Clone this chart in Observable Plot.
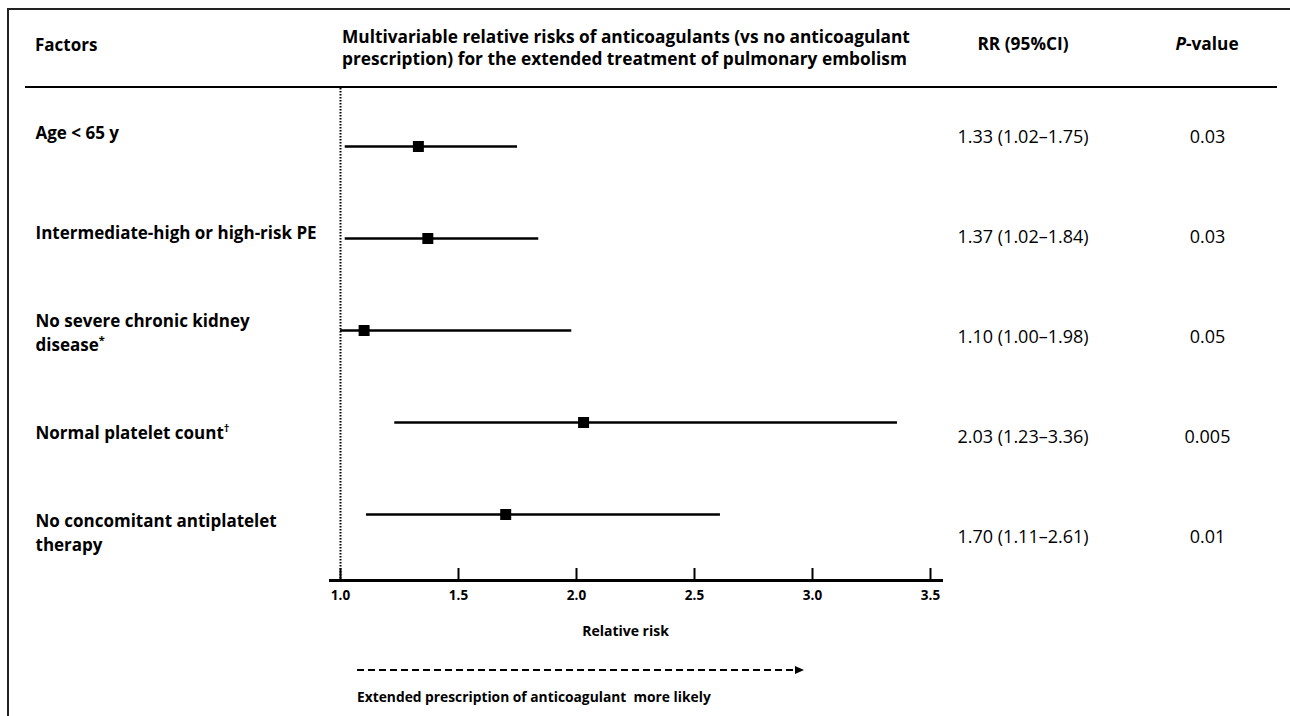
<!DOCTYPE html>
<html>
<head>
<meta charset="utf-8">
<script src="https://cdn.jsdelivr.net/npm/d3@7"></script>
<script src="https://cdn.jsdelivr.net/npm/@observablehq/plot@0.6"></script>
<style>
  body { margin: 0; background: #fff; font-family: "Open Sans", sans-serif; color: #000; }
  #page { position: relative; width: 1290px; height: 716px; overflow: hidden; }
  .border { position: absolute; left: 7px; top: 8px; right: -10px; bottom: -10px;
            border-left: 2px solid #222; border-top: 2px solid #222; }
  .hd { position: absolute; font-weight: 700; font-size: 17.3px; line-height: 22px; white-space: nowrap; }
  .center { transform: translateX(-50%); text-align: center; }
  .rule { position: absolute; left: 25px; top: 86px; width: 1252px; height: 2px; background: #000; }
  .layer { position: absolute; left: 0; top: 88px; }
  .arrow { position: absolute; left: 357px; top: 669px; width: 438px; height: 2px;
           background: repeating-linear-gradient(to right, #000 0 7px, transparent 7px 11px); }
  .arrowhead { position: absolute; left: 795px; top: 666px; width: 0; height: 0;
               border-top: 4px solid transparent; border-bottom: 4px solid transparent; border-left: 9px solid #000; }
  .note { position: absolute; left: 357px; top: 687px; font-weight: 700; font-size: 13.8px; line-height: 20px; white-space: nowrap; }
</style>
</head>
<body>
<div id="page">
  <div class="border"></div>
  <div class="hd" style="left:35px; top:34px; font-size:17px;">Factors</div>
  <div class="hd" style="left:342px; top:26px;">Multivariable relative risks of anticoagulants (vs no anticoagulant<br>prescription) for the extended treatment of pulmonary embolism</div>
  <div class="hd center" style="left:1023px; top:33px;">RR (95%CI)</div>
  <div class="hd center" style="left:1207px; top:33px;"><i>P</i>-value</div>
  <div class="rule"></div>
  <div id="forest" class="layer"></div>
  <div id="table" class="layer"></div>
  <div class="arrow"></div>
  <div class="arrowhead"></div>
  <div class="note">Extended prescription of anticoagulant&nbsp; more likely</div>
</div>
<script>
// Factors associated with an extended anticoagulant prescription
const factors = [
  "Age < 65 y",
  "Intermediate-high or high-risk PE",
  "No severe chronic kidney\ndisease*",
  "Normal platelet count\u2020",
  "No concomitant antiplatelet\ntherapy"
];
const relativeRisk = [1.33, 1.37, 1.10, 2.03, 1.70];
const ciLow = [1.02, 1.02, 1.00, 1.23, 1.11];
const ciHigh = [1.75, 1.84, 1.98, 3.36, 2.61];
const pValues = ["0.03", "0.03", "0.05", "0.005", "0.01"];
const xTicks = [1.0, 1.5, 2.0, 2.5, 3.0, 3.5];

const rows = factors.map((factor, i) => ({
  factor, rr: relativeRisk[i], lo: ciLow[i], hi: ciHigh[i], p: pValues[i]
}));

const fmt = d3.format(".2f");

// shared frame geometry for both layers
const frame = {
  width: 1290, height: 628,
  marginTop: 0, marginBottom: 136, marginLeft: 340, marginRight: 360,
  style: { fontFamily: "'Open Sans', sans-serif", color: "#000", background: "transparent", overflow: "visible" }
};

// forest plot: estimates with 95% confidence intervals
const forest = Plot.plot({
  ...frame,
  x: { domain: [1, 3.5] },
  y: { type: "point", domain: factors, padding: 0, insetTop: 57, insetBottom: 65, axis: null },
  marks: [
    Plot.ruleX([1], { stroke: "#000", strokeWidth: 2, strokeDasharray: "1.5,1.5" }),
    Plot.frame({ anchor: "bottom", insetLeft: -10, insetRight: -11, stroke: "#000", strokeWidth: 3 }),
    Plot.axisX(xTicks, {
      anchor: "bottom", tickSize: -12, tickPadding: 22, strokeWidth: 2,
      tickFormat: d3.format(".1f"), fontSize: 13.5, fontWeight: "bold", label: null
    }),
    Plot.ruleY(rows, { y: "factor", x1: "lo", x2: "hi", stroke: "#000", strokeWidth: 2.5 }),
    Plot.dot(rows, { x: "rr", y: "factor", symbol: "square", r: 6.2, fill: "#000" }),
    Plot.text(["Relative risk"], { text: d => d, frameAnchor: "bottom", dx: -10, dy: 55,
                                   fontSize: 14, fontWeight: "bold" })
  ]
});

// table columns: factor names, RR (95% CI) and P-values
const table = Plot.plot({
  ...frame,
  y: { type: "point", domain: factors, padding: 0, insetTop: 49, insetBottom: 43, axis: null },
  marks: [
    Plot.text(rows, { y: "factor", text: "factor", frameAnchor: "left", dx: -305, dy: -6,
                      textAnchor: "start", fontSize: 17, fontWeight: "bold", lineHeight: 1.4 }),
    Plot.text(rows, { y: "factor", text: d => `${fmt(d.rr)} (${fmt(d.lo)}\u2013${fmt(d.hi)})`,
                      frameAnchor: "right", dx: 27, textAnchor: "start", fontSize: 18 }),
    Plot.text(rows, { y: "factor", text: "p", frameAnchor: "right", dx: 277,
                      textAnchor: "middle", fontSize: 18 })
  ]
});

// set footnote markers (* and †) as small superscripts
d3.select(table).selectAll("text, tspan").each(function () {
  const node = this.lastChild;
  if (!node || node.nodeType !== 3) return;
  const m = node.nodeValue.match(/^(.*?)([*\u2020])$/);
  if (!m) return;
  node.nodeValue = m[1];
  d3.select(this).append("tspan")
    .attr("font-size", 11)
    .attr("baseline-shift", "super")
    .text(m[2]);
});

document.getElementById("forest").appendChild(forest);
document.getElementById("table").appendChild(table);
</script>
</body>
</html>
